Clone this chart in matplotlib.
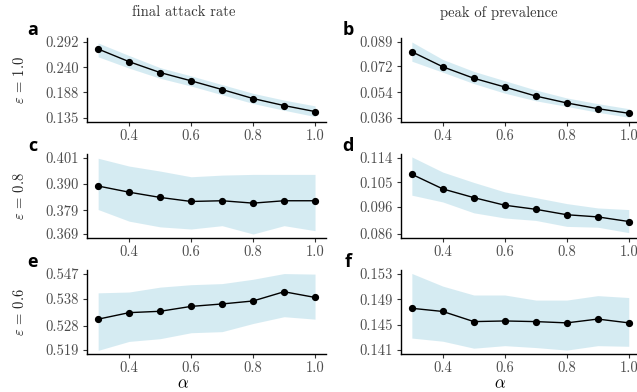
import numpy as np
import matplotlib
matplotlib.use("Agg")
import matplotlib.pyplot as plt

plt.rcParams['mathtext.fontset'] = 'cm'
plt.rcParams['axes.formatter.use_mathtext'] = True

# ---- data ----
alpha = [0.3, 0.4, 0.5, 0.6, 0.7, 0.8, 0.9, 1.0]

# final attack rate
far_e10 = [0.2775, 0.2513, 0.2289, 0.2118, 0.1938, 0.1752, 0.1607, 0.1483]
far_e10_lo = [0.2614, 0.2380, 0.2170, 0.2010, 0.1830, 0.1650, 0.1510, 0.1380]
far_e10_hi = [0.2900, 0.2640, 0.2390, 0.2220, 0.2040, 0.1860, 0.1720, 0.1600]
far_e08 = [0.3892, 0.3866, 0.3844, 0.3827, 0.3830, 0.3820, 0.3830, 0.3830]
far_e08_lo = [0.3793, 0.3744, 0.3720, 0.3711, 0.3725, 0.3690, 0.3725, 0.3704]
far_e08_hi = [0.4009, 0.3976, 0.3955, 0.3931, 0.3938, 0.3941, 0.3941, 0.3941]
far_e06 = [0.5304, 0.5328, 0.5333, 0.5351, 0.5360, 0.5371, 0.5405, 0.5384]
far_e06_lo = [0.5189, 0.5222, 0.5232, 0.5254, 0.5258, 0.5288, 0.5313, 0.5304]
far_e06_hi = [0.5401, 0.5404, 0.5422, 0.5431, 0.5435, 0.5451, 0.5472, 0.5470]

# peak of prevalence
pk_e10 = [0.0822, 0.0717, 0.0637, 0.0576, 0.0513, 0.0465, 0.0425, 0.0393]
pk_e10_lo = [0.0756, 0.0679, 0.0600, 0.0533, 0.0480, 0.0441, 0.0400, 0.0365]
pk_e10_hi = [0.0890, 0.0768, 0.0685, 0.0620, 0.0555, 0.0500, 0.0460, 0.0425]
pk_e08 = [0.1080, 0.1026, 0.0994, 0.0966, 0.0951, 0.0931, 0.0923, 0.0906]
pk_e08_lo = [0.1003, 0.0978, 0.0938, 0.0919, 0.0910, 0.0888, 0.0885, 0.0865]
pk_e08_hi = [0.1144, 0.1088, 0.1050, 0.1015, 0.0994, 0.0972, 0.0956, 0.0950]
pk_e06 = [0.1476, 0.1471, 0.1455, 0.1456, 0.1455, 0.1453, 0.1459, 0.1453]
pk_e06_lo = [0.1429, 0.1424, 0.1413, 0.1417, 0.1414, 0.1410, 0.1417, 0.1416]
pk_e06_hi = [0.1531, 0.1511, 0.1497, 0.1497, 0.1489, 0.1489, 0.1496, 0.1493]

yticks_far = [[0.135, 0.188, 0.240, 0.292],
              [0.369, 0.379, 0.390, 0.401],
              [0.519, 0.528, 0.538, 0.547]]
yticks_pk = [[0.036, 0.054, 0.072, 0.089],
             [0.086, 0.096, 0.105, 0.114],
             [0.141, 0.145, 0.149, 0.153]]
xticks = [0.4, 0.6, 0.8, 1.0]
eps_labels = ['1.0', '0.8', '0.6']
letters = [['a', 'b'], ['c', 'd'], ['e', 'f']]
col_titles = ['final attack rate', 'peak of prevalence']

series = [[(far_e10, far_e10_lo, far_e10_hi), (pk_e10, pk_e10_lo, pk_e10_hi)],
          [(far_e08, far_e08_lo, far_e08_hi), (pk_e08, pk_e08_lo, pk_e08_hi)],
          [(far_e06, far_e06_lo, far_e06_hi), (pk_e06, pk_e06_lo, pk_e06_hi)]]
yticks = [[yticks_far[i], yticks_pk[i]] for i in range(3)]

# ---- layout ----
W, H = 637, 392
fig = plt.figure(figsize=(W / 100, H / 100), dpi=100)

col_left = [87.3, 401.0]
ax_w = 238.6
row_top = [38.2, 154.2, 270.3]
ax_h = 83.6
tick_col = '#4d4d4d'
serif = 'cmr10'

for r in range(3):
    for c in range(2):
        ax = fig.add_axes([col_left[c] / W, (H - row_top[r] - ax_h) / H,
                           ax_w / W, ax_h / H])
        y, lo, hi = series[r][c]
        ax.fill_between(alpha, lo, hi, color='lightblue', alpha=0.5, lw=0)
        ax.plot(alpha, y, color='black', lw=1.0, marker='o', ms=4.2)
        t = yticks[r][c]
        span = t[-1] - t[0]
        ax.set_ylim(t[0] - 0.05 * span, t[-1] + 0.05 * span)
        ax.set_xlim(0.265, 1.035)
        ax.set_yticks(t)
        ax.set_yticklabels(['%.3f' % v for v in t])
        ax.set_xticks(xticks)
        ax.set_xticklabels(['%.1f' % v for v in xticks])
        for s in ['top', 'right']:
            ax.spines[s].set_visible(False)
        for s in ['left', 'bottom']:
            ax.spines[s].set_linewidth(1.0)
        ax.tick_params(length=3, width=0.8, color='#333333', labelcolor=tick_col,
                       labelsize=10.5, pad=3)
        ax.tick_params(axis='x', pad=2.5)
        for lab in ax.get_xticklabels() + ax.get_yticklabels():
            lab.set_family(serif)
        ax.set_facecolor('none')

        lx = [33, 348][c]
        fig.text(lx / W, 1 - (row_top[r] - 8) / H, letters[r][c],
                 fontsize=13, fontweight='bold', family='Open Sans',
                 ha='center', va='center')

    fig.text(20 / W, 1 - (row_top[r] + ax_h / 2) / H,
             r'$\varepsilon$ = ' + eps_labels[r], rotation=90,
             ha='center', va='center', fontsize=10.5, family=serif, color='#222222')

for c in range(2):
    fig.text([184, 499][c] / W, 1 - 12.5 / H, col_titles[c], ha='center', va='center',
             fontsize=10.5, family=serif, color='#333333')
    fig.text([183, 500][c] / W, 1 - 383.5 / H, r'$\alpha$', ha='center', va='center',
             fontsize=12)

fig.savefig('out.png', dpi=100)
